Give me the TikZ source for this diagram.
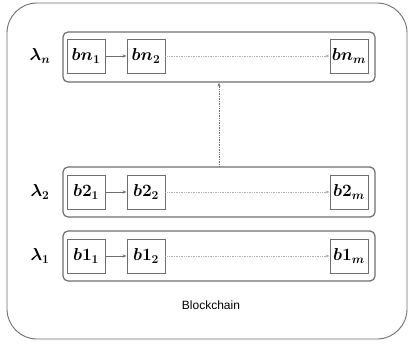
\documentclass[tikz,border=0pt]{standalone}
\usepackage{fontspec}
\newfontfamily\chainfont{Liberation Sans}
\usetikzlibrary{arrows.meta}
\definecolor{linegray}{RGB}{110,110,110}
\definecolor{dotgray}{RGB}{175,175,175}
\tikzset{
  block/.style={draw=linegray,line width=0.9pt,minimum width=38pt,minimum height=34pt,inner sep=0pt,
    font=\fontsize{18.5}{22}\selectfont\boldmath},
  lane/.style={draw=linegray,line width=1.2pt,rounded corners=5pt,minimum width=312pt,minimum height=50pt},
  lanelabel/.style={font=\fontsize{18.5}{22}\selectfont\boldmath},
  link/.style={-{Stealth[length=4pt,width=3pt]},linegray,line width=0.8pt},
  gap/.style={-{Stealth[length=4pt,width=3pt]},dotgray,line width=0.7pt,densely dotted}
}

\begin{document}
\begin{tikzpicture}[x=1pt,y=-1pt]

    \useasboundingbox (0,0) rectangle (410,345);

    % outer frame
    \node[draw=linegray,line width=0.9pt,rounded corners=30pt,
      minimum width=400pt,minimum height=336pt] (chain) at (207,171) {};
    \node[font=\chainfont\large] (chainname) at (211,305) {Blockchain};

    % lanes
    \node[lane] (lanen) at (219,57) {};
    \node[lane] (lane2) at (219,192) {};
    \node[lane] (lane1) at (219,256) {};

    % labels
    \node[lanelabel] (ln) at (40,56) {$\lambda_n$};
    \node[lanelabel] (l2) at (40,192) {$\lambda_2$};
    \node[lanelabel] (l1) at (40,256) {$\lambda_1$};

    % blocks
    \node[block] (bn1) at (86,56) {$bn_1$};
    \node[block] (bn2) at (146,56) {$bn_2$};
    \node[block] (bnm) at (349,56) {$bn_m$};
    \node[block] (b21) at (86,192) {$b2_1$};
    \node[block] (b22) at (146,192) {$b2_2$};
    \node[block] (b2m) at (349,192) {$b2_m$};
    \node[block] (b11) at (86,256) {$b1_1$};
    \node[block] (b12) at (146,256) {$b1_2$};
    \node[block] (b1m) at (349,256) {$b1_m$};

    % arrows
    \draw[link] (bn1) -- (bn2);
    \draw[gap] (bn2) -- (bnm);
    \draw[link] (b21) -- (b22);
    \draw[gap] (b22) -- (b2m);
    \draw[link] (b11) -- (b12);
    \draw[gap] (b12) -- (b1m);
    \draw[gap,linegray,line width=0.9pt] (lane2.north) -- (lanen.south);

\end{tikzpicture}
\end{document}
